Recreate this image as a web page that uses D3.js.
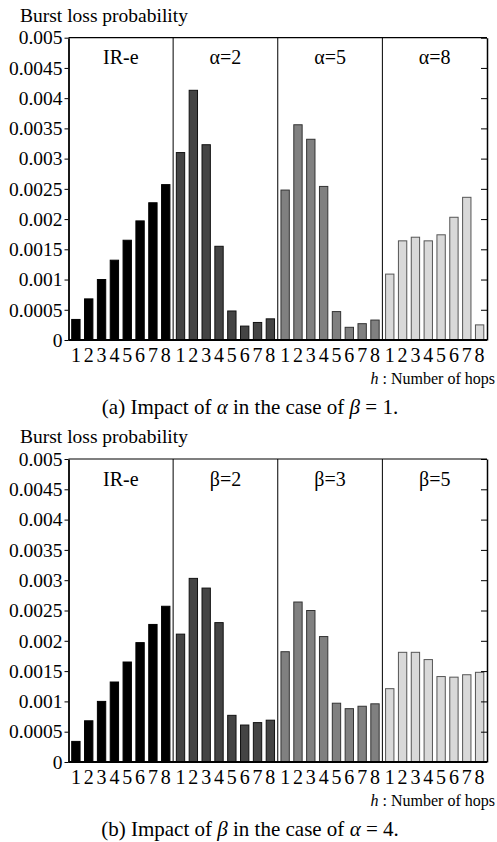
<!DOCTYPE html>
<html>
<head>
<meta charset="utf-8">
<script src="https://cdn.jsdelivr.net/npm/d3@7"></script>
<style>
  body { margin: 0; background: #fff; }
  svg { display: block; }
  .axis path, .axis line { stroke: #000; }
</style>
</head>
<body>
<svg id="chart" width="497" height="842"></svg>
<script>
// hops on the x axis, one bar each
const hops = ['1', '2', '3', '4', '5', '6', '7', '8']
const groupsA = ['IR-e', 'α=2', 'α=5', 'α=8']
const groupsB = ['IR-e', 'β=2', 'β=3', 'β=5']

// burst loss probability
const irE    = [0.00034, 0.00068, 0.00100, 0.00132, 0.00165, 0.00197, 0.00227, 0.00257]
const alpha2 = [0.00310, 0.00413, 0.00323, 0.00155, 0.00048, 0.00023, 0.00029, 0.00035]
const alpha5 = [0.00248, 0.00356, 0.00332, 0.00254, 0.00047, 0.00021, 0.00027, 0.00033]
const alpha8 = [0.00109, 0.00164, 0.00170, 0.00164, 0.00174, 0.00203, 0.00236, 0.00025]
const beta2  = [0.00211, 0.00303, 0.00287, 0.00230, 0.00077, 0.00061, 0.00065, 0.00069]
const beta3  = [0.00182, 0.00264, 0.00250, 0.00207, 0.00097, 0.00088, 0.00092, 0.00096]
const beta5  = [0.00121, 0.00181, 0.00181, 0.00169, 0.00141, 0.00140, 0.00144, 0.00148]

const yTicks = [0, 0.0005, 0.001, 0.0015, 0.002, 0.0025, 0.003, 0.0035, 0.004, 0.0045, 0.005]
const yTickLabels = ['0', '0.0005', '0.001', '0.0015', '0.002', '0.0025', '0.003', '0.0035', '0.004', '0.0045', '0.005']

const fills = ['#000000', '#444444', '#808080', '#d9d9d9']
const strokes = ['#000000', '#111111', '#333333', '#555555']

const SERIF = '"Liberation Serif", serif'

var svg = d3.select('#chart')

function serif(sel, size) {
  return sel.style('font-family', SERIF).style('font-size', size + 'px').attr('fill', '#000')
}

function drawPanel(opts) {
  var { top, bottom, left, right, groups, series, caption } = opts

  var x0 = d3.scaleBand().domain(groups).range([left, right])
  var x1 = d3.scaleBand().domain(hops).range([0, x0.bandwidth()])
    .paddingInner(0.35).paddingOuter(0.25)
  var y = d3.scaleLinear().domain([0, 0.005]).range([bottom, top])

  var g = svg.append('g')

  // title of the y axis
  serif(g.append('text'), 19.5)
    .attr('x', 20).attr('y', top - 16)
    .text('Burst loss probability')

  // bars
  groups.forEach(function (grp, gi) {
    var gg = g.append('g').attr('transform', 'translate(' + x0(grp) + ',0)')
    gg.selectAll('rect')
      .data(series[gi])
      .enter().append('rect')
      .attr('x', function (d, i) { return x1(hops[i]) })
      .attr('y', function (d) { return y(d) })
      .attr('width', x1.bandwidth())
      .attr('height', function (d) { return bottom - y(d) })
      .attr('fill', fills[gi])
      .attr('stroke', strokes[gi])
      .attr('stroke-width', 1)

    serif(gg.append('text'), 20)
      .attr('x', x0.bandwidth() / 2)
      .attr('y', top + 26.5)
      .attr('text-anchor', 'middle')
      .text(grp)

    var ax = gg.append('g')
      .attr('class', 'axis')
      .attr('transform', 'translate(0,' + bottom + ')')
      .call(d3.axisBottom(x1).tickSize(0).tickPadding(8))
    ax.select('.domain').remove()
    serif(ax.selectAll('text'), 20).attr('dy', '0.71em')
  })

  // group dividers
  g.selectAll('.divider')
    .data(groups.slice(1))
    .enter().append('line')
    .attr('class', 'divider')
    .attr('x1', function (d) { return x0(d) })
    .attr('x2', function (d) { return x0(d) })
    .attr('y1', top).attr('y2', bottom)
    .attr('stroke', '#000').attr('stroke-width', 1)

  // top border
  g.append('line')
    .attr('x1', left).attr('x2', right)
    .attr('y1', top).attr('y2', top)
    .attr('stroke', '#000').attr('stroke-width', 1.2)

  // left axis
  var ay = g.append('g')
    .attr('class', 'axis')
    .attr('transform', 'translate(' + left + ',0)')
    .call(d3.axisLeft(y).tickValues(yTicks)
      .tickFormat(function (d, i) { return yTickLabels[i] })
      .tickSizeInner(4).tickSizeOuter(0).tickPadding(2))
  ay.select('.domain').attr('stroke-width', 1.8)
  serif(ay.selectAll('text'), 19.5)

  // right axis, ticks point inward
  g.append('g')
    .attr('class', 'axis')
    .attr('transform', 'translate(' + right + ',0)')
    .call(d3.axisLeft(y).tickValues(yTicks).tickFormat('')
      .tickSizeInner(6).tickSizeOuter(0))
    .call(function (a) { a.select('.domain').attr('stroke-width', 1.5) })

  // bottom axis line
  g.append('line')
    .attr('x1', left).attr('x2', right)
    .attr('y1', bottom).attr('y2', bottom)
    .attr('stroke', '#000').attr('stroke-width', 2)

  // x axis title
  var xt = serif(g.append('text'), 16)
    .attr('x', 495).attr('y', bottom + 44)
    .attr('text-anchor', 'end')
  xt.append('tspan').style('font-style', 'italic').text('h')
  xt.append('tspan').text(' : Number of hops')

  // caption
  var ct = serif(g.append('text'), 21)
    .attr('x', 250).attr('y', bottom + 74)
    .attr('text-anchor', 'middle')
  caption.forEach(function (c) {
    ct.append('tspan').style('font-style', c.it ? 'italic' : 'normal').text(c.t)
  })
}

drawPanel({
  top: 37.7, bottom: 340, left: 68.5, right: 487,
  groups: groupsA,
  series: [irE, alpha2, alpha5, alpha8],
  caption: [{ t: '(a) Impact of ' }, { t: 'α', it: true }, { t: ' in the case of ' }, { t: 'β', it: true }, { t: ' = 1.' }]
})

drawPanel({
  top: 459, bottom: 762, left: 68.5, right: 487,
  groups: groupsB,
  series: [irE, beta2, beta3, beta5],
  caption: [{ t: '(b) Impact of ' }, { t: 'β', it: true }, { t: ' in the case of ' }, { t: 'α', it: true }, { t: ' = 4.' }]
})
</script>
</body>
</html>
